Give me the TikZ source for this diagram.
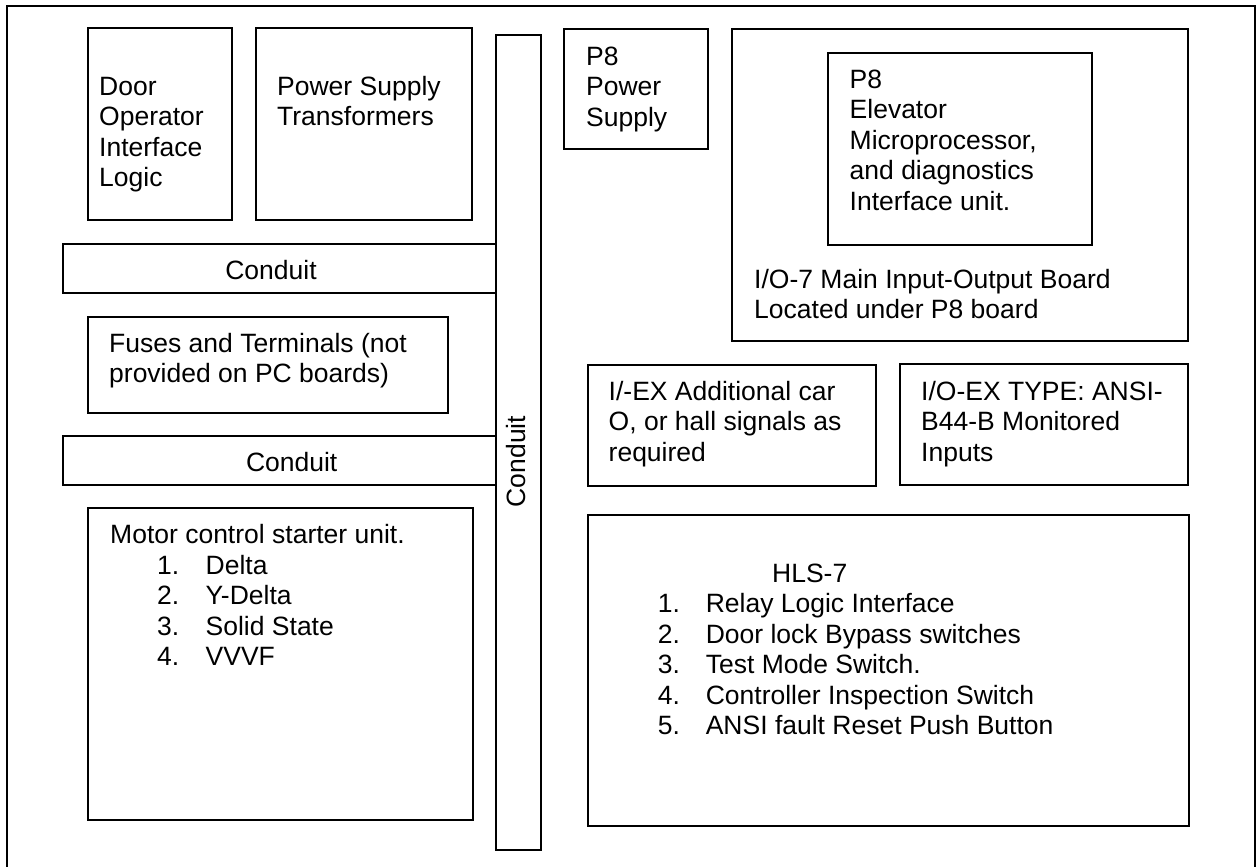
\documentclass[tikz,border=0pt]{standalone}
\usepackage{fontspec}
\setmainfont{Liberation Sans}
\begin{document}
\begin{tikzpicture}[x=1pt,y=-1pt,
  panel/.style={draw=black,line width=2pt},
  frame/.style={draw=black,line width=2pt},
  txt/.style={anchor=north west,inner sep=0pt,align=left,font=\fontsize{26.5}{30.5}\selectfont},
  lbl/.style={anchor=base,inner sep=0pt,font=\fontsize{26.5}{30.5}\selectfont}]
\useasboundingbox (0,0) rectangle (1256,867);
% outer frame (bottom edge off the page)
\draw[frame] (7,875) -- (7,6) -- (1255,6) -- (1255,875);
% boxes
\draw[panel] (88,28) rectangle (232,220);
\draw[panel] (256,28) rectangle (472,220);
\draw[panel] (496,35) rectangle (541,850);
\draw[panel] (564,29) rectangle (708,149);
\draw[panel] (732,29) rectangle (1188,341);
\draw[panel] (828,53) rectangle (1092,245);
\draw[panel] (63,244) rectangle (496,293);
\draw[panel] (88,317) rectangle (448,413);
\draw[panel] (63,436) rectangle (496,485);
\draw[panel] (588,365) rectangle (876,486);
\draw[panel] (900,364) rectangle (1188,485);
\draw[panel] (88,508) rectangle (473,820);
\draw[panel] (588,515) rectangle (1189,826);
% texts
\node[txt] (door) at (99,73.6) {\strut Door\\\strut Operator\\\strut Interface\\\strut Logic};
\node[txt] (pst) at (277,73.6) {\strut Power Supply\\\strut Transformers};
\node[txt] (p8ps) at (586,43.6) {\strut P8\\\strut Power\\\strut Supply};
\node[txt] (p8mp) at (849.5,66.9) {\strut P8\\\strut Elevator\\\strut Microprocessor,\\\strut and diagnostics\\\strut Interface unit.};
\node[txt] (io7) at (754,266.9) {\strut I/O-7 Main Input-Output Board\\\strut Located under P8 board};
\node[txt] (fuses) at (109,330.6) {\strut Fuses and Terminals (not\\\strut provided on PC boards)};
\node[txt] (iex) at (608.5,378.6) {\strut I/-EX Additional car\\\strut O, or hall signals as\\\strut required};
\node[txt] (ioex) at (921,378.6) {\strut I/O-EX TYPE: ANSI-\\\strut B44-B Monitored\\\strut Inputs};
\node[txt] (motor) at (110,522) {\strut Motor control starter unit.\\
\strut\hspace*{47pt}\makebox[48.5pt][l]{1.}Delta\\
\strut\hspace*{47pt}\makebox[48.5pt][l]{2.}Y-Delta\\
\strut\hspace*{47pt}\makebox[48.5pt][l]{3.}Solid State\\
\strut\hspace*{47pt}\makebox[48.5pt][l]{4.}VVVF};
\node[txt] (hls) at (657.6,560.6) {\strut\hspace*{114.4pt}HLS-7\\
\strut\makebox[48pt][l]{1.}Relay Logic Interface\\
\strut\makebox[48pt][l]{2.}Door lock Bypass switches\\
\strut\makebox[48pt][l]{3.}Test Mode Switch.\\
\strut\makebox[48pt][l]{4.}Controller Inspection Switch\\
\strut\makebox[48pt][l]{5.}ANSI fault Reset Push Button};
\node[lbl] (cond1) at (271,279.5) {Conduit};
\node[lbl] (cond2) at (291.7,471) {Conduit};
\node[lbl,rotate=90] (cond3) at (525.5,461.5) {Conduit};
\end{tikzpicture}
\end{document}
